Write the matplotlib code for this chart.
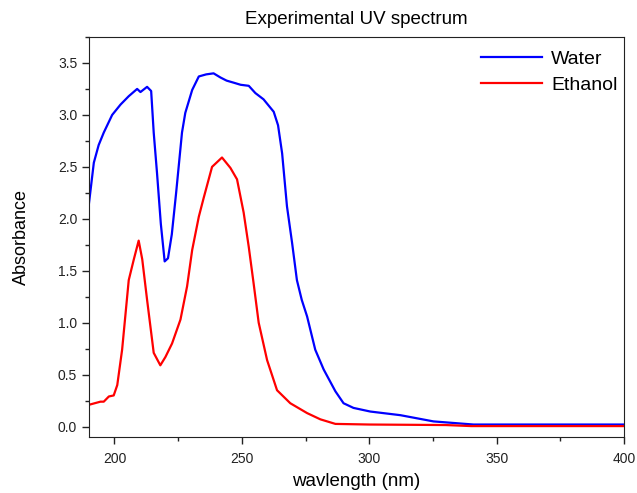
import numpy as np
import matplotlib.pyplot as plt
from matplotlib.ticker import MultipleLocator

plt.rcParams['font.family'] = ['Liberation Sans', 'DejaVu Sans']

# Water spectrum
water_nm = [190, 191.9, 193.8, 195.8, 199.1, 202.4, 205.6, 208.9, 210.2, 212.8, 214.4,
            215.4, 216.7, 218.2, 219.7, 221.0, 222.5, 224.2, 226.5, 227.8, 230.5, 233.1,
            236.0, 238.9, 241.6, 244.0, 246.8, 249.5, 252.7, 255.3, 258.5, 262.5, 264.2,
            265.8, 267.7, 269.7, 271.6, 273.5, 275.6, 278.8, 282.1, 286.7, 289.9, 293.8,
            300.4, 312.2, 325.2, 340.9, 360, 380, 400]
water_abs = [2.15, 2.54, 2.71, 2.83, 3.00, 3.10, 3.18, 3.25, 3.22, 3.27, 3.23,
             2.83, 2.44, 1.95, 1.59, 1.62, 1.85, 2.25, 2.83, 3.02, 3.24, 3.37,
             3.39, 3.40, 3.36, 3.33, 3.31, 3.29, 3.28, 3.21, 3.15, 3.03, 2.90,
             2.63, 2.12, 1.77, 1.41, 1.22, 1.06, 0.74, 0.55, 0.34, 0.225, 0.18,
             0.145, 0.11, 0.05, 0.02, 0.02, 0.02, 0.02]

# Ethanol spectrum
eth_nm = [190, 194.5, 195.8, 197.8, 199.7, 201.1, 203.0, 205.6, 207.6, 209.5, 210.9,
          212.8, 215.4, 218.0, 220.0, 222.6, 225.9, 228.5, 230.5, 233.1, 235.0, 238.3,
          242.2, 245.5, 248.1, 250.7, 252.7, 254.6, 256.6, 259.9, 263.8, 269.0, 275.6,
          280.8, 286.7, 300, 330, 340, 370, 400]
eth_abs = [0.21, 0.24, 0.24, 0.29, 0.30, 0.40, 0.74, 1.41, 1.61, 1.79, 1.61,
           1.22, 0.71, 0.59, 0.67, 0.80, 1.03, 1.35, 1.70, 2.02, 2.20, 2.50,
           2.59, 2.49, 2.38, 2.06, 1.73, 1.38, 1.00, 0.64, 0.35, 0.225, 0.13,
           0.07, 0.026, 0.02, 0.015, 0.005, 0.005, 0.005]

fig = plt.figure(figsize=(6.37, 4.93), dpi=100)
ax = fig.add_axes([0.1397, 0.1136, 0.84, 0.8114])

ax.plot(water_nm, water_abs, color='#0000ff', lw=1.6, label='Water')
ax.plot(eth_nm, eth_abs, color='#ff0000', lw=1.6, label='Ethanol')

ax.set_xlim(190, 400)
ax.set_ylim(-0.1, 3.75)
ax.xaxis.set_major_locator(MultipleLocator(50))
ax.xaxis.set_minor_locator(MultipleLocator(25))
ax.yaxis.set_major_locator(MultipleLocator(0.5))
ax.yaxis.set_minor_locator(MultipleLocator(0.25))
ax.tick_params(which='major', direction='out', length=5, width=1, labelsize=10, colors='#222222')
ax.tick_params(which='minor', direction='out', length=3, width=1, colors='#222222')
ax.tick_params(axis='x', pad=6)
for s in ax.spines.values():
    s.set_color('#222222')

ax.set_title('Experimental UV spectrum', fontsize=13.5, pad=9)
ax.set_xlabel('wavlength (nm)', fontsize=13.5, labelpad=5)
ax.set_ylabel('Absorbance', fontsize=13, labelpad=20)

ax.legend(loc='upper right', frameon=False, fontsize=14, handlelength=3.1,
          handletextpad=0.5, labelspacing=0.42, bbox_to_anchor=(1.008, 0.993),
          borderaxespad=0.15)

fig.savefig('out.png', dpi=100)
